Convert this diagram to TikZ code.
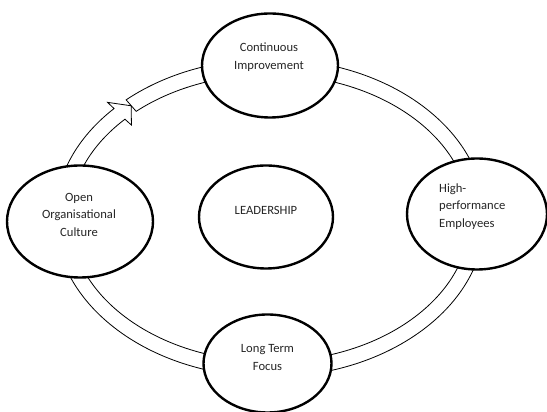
\documentclass[tikz,border=0pt]{standalone}
\usepackage{fontspec}
\setmainfont{Carlito}
\usetikzlibrary{shapes.geometric,calc}
\begin{document}
\begin{tikzpicture}[x=1pt,y=1pt,
  bubble/.style={ellipse,draw=black,line width=2.4pt,fill=white,inner sep=0pt},
  caption/.style={font=\fontsize{12.6}{17.5}\selectfont,align=center,text=black!85,inner sep=0pt},
  band/.style={draw=black,line width=0.8pt,fill=white,line join=miter}]
\useasboundingbox (0,0) rectangle (547,412);
\coordinate (ring) at (270,194);
% the cycle band: a ring broken at the upper left, with an open arrowhead
\draw[band]
  ($(ring)+(132:215 and 159)$)
    arc[start angle=132,end angle=-223.5,x radius=215,y radius=159]
  -- ($(ring)+(136.5:224 and 168)$)
  -- ($(ring)+(132:207.5 and 151)$)
  -- ($(ring)+(136.5:191 and 135)$)
  -- ($(ring)+(136.5:200 and 143.5)$)
    arc[start angle=-223.5,end angle=132,x radius=200,y radius=143.5]
  -- cycle;
% the five ellipses
\node[bubble,minimum width=136pt,minimum height=104pt] (ci) at (270,346.5) {};
\node[bubble,minimum width=146pt,minimum height=112pt] (oc) at (80,190.5) {};
\node[bubble,minimum width=134pt,minimum height=103pt] (ld) at (266,195) {};
\node[bubble,minimum width=140pt,minimum height=111pt] (hp) at (477,198) {};
\node[bubble,minimum width=128pt,minimum height=98pt] (lt) at (267.5,48.5) {};
% their texts
\node[caption] (ciT) at ($(ci)+(-1,8.5)$) {Continuous\\Improvement};
\node[caption] (ocT) at ($(oc)+(-1,7)$) {Open\\Organisational\\Culture};
\node[caption] (ldT) at ($(ld)+(0,7)$) {LEADERSHIP};
\node[caption,anchor=west,align=left] (hpT) at (439,205.5) {High-\\performance\\Employees};
\node[caption] (ltT) at ($(lt)+(0,6)$) {Long Term\\Focus};
\end{tikzpicture}
\end{document}
